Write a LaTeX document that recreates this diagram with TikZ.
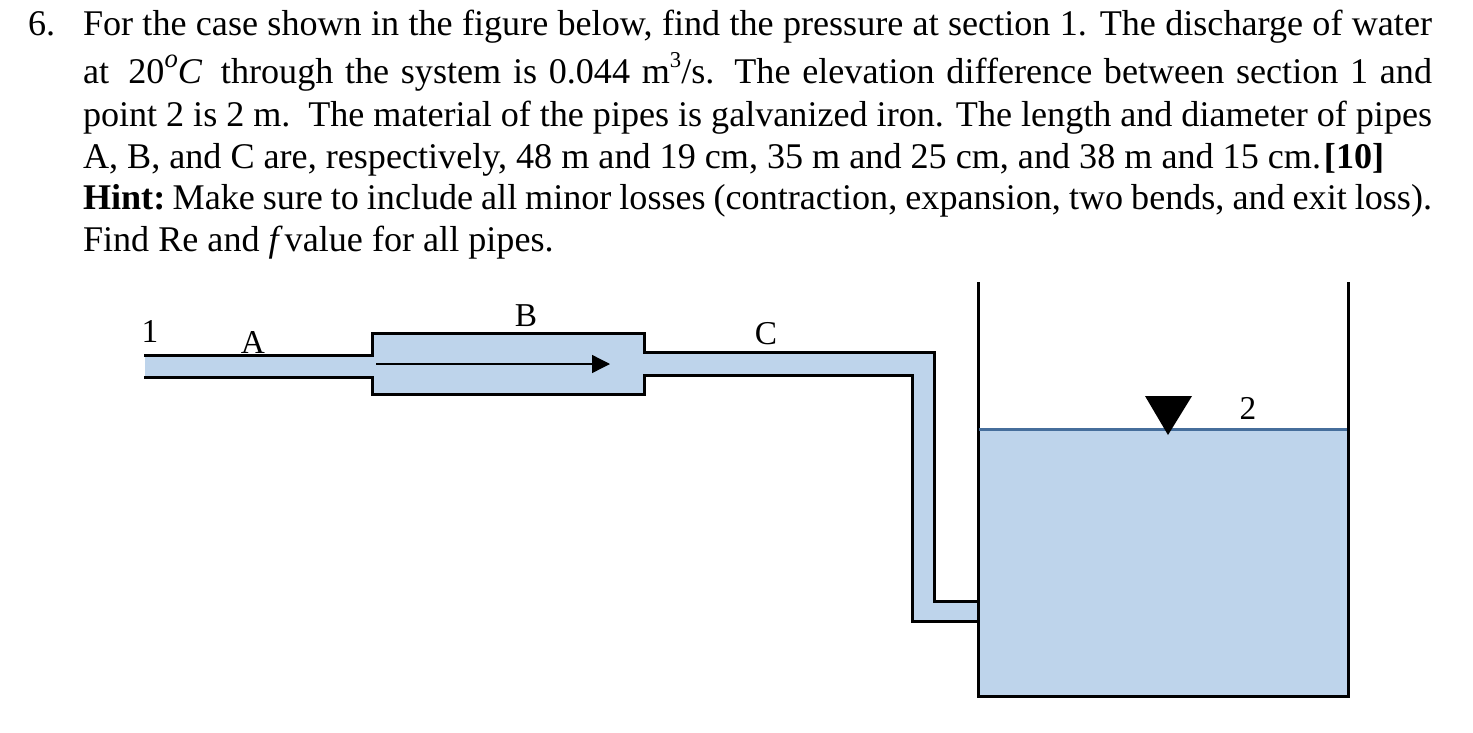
\documentclass[tikz,border=0pt]{standalone}
\usepackage{fontspec}
\setmainfont{Liberation Serif}
\usetikzlibrary{arrows.meta}
\definecolor{water}{RGB}{190,212,235}
\definecolor{surf}{RGB}{70,110,155}
\tikzset{
  textline/.style={anchor=base west,inner sep=0pt,outer sep=0pt,font=\fontsize{27.1pt}{30pt}\selectfont},
  lab/.style={inner sep=0pt,font=\fontsize{25pt}{28pt}\selectfont},
  wall/.style={draw=black,line width=2.25pt,line cap=butt,line join=miter},
  liquid/.style={fill=water,draw=none}
}
\newcommand{\fl}[1]{\makebox[1011.75pt][s]{#1}}
\begin{document}
\begin{tikzpicture}[x=0.75pt,y=-0.75pt]
\useasboundingbox (0,0) rectangle (1473,732);
\fill[white] (0,0) rectangle (1473,732);
% text
\node[textline] (n6) at (28,35) {6.};
\node[textline] (l1) at (83,35) {\fl{For the case shown in the figure below, find the pressure at section 1. The discharge of water}};
\node[textline] (l2) at (83,83) {\fl{at\kern14.5pt 20\raisebox{0.42em}{\fontsize{20pt}{20pt}\selectfont\textit{o}}\textit{C}\kern14pt through the system is 0.044 m\raisebox{0.42em}{\fontsize{17pt}{20pt}\selectfont 3}/s. The elevation difference between section 1 and}};
\node[textline] (l3) at (83,126) {\fl{point 2 is 2 m.\ \ The material of the pipes is galvanized iron. The length and diameter of pipes}};
\node[textline] (l4) at (83,168) {A, B, and C are, respectively, 48 m and 19 cm, 35 m and 25 cm, and 38 m and 15 cm.\kern-0.5pt\ \kern-4pt\textbf{[10]}};
\node[textline] (l5) at (83,209) {\fl{\textbf{Hint:}\kern5.5pt Make sure to include all minor losses (contraction, expansion, two bends, and exit loss).}};
\node[textline] (l6) at (83,251) {Find Re and \textit{f\,}value for all pipes.};
% water
\fill[liquid] (145,355) -- (372,355) -- (372,333) -- (644,333) -- (644,352) -- (934,352) -- (934,601) -- (978,601) -- (978,429) -- (1348,429) -- (1348,696) -- (978,696) -- (978,621) -- (912,621) -- (912,375) -- (644,375) -- (644,394) -- (372,394) -- (372,377) -- (145,377) -- cycle;
% pipe walls
\coordinate (a1) at (144,355); \coordinate (a2) at (372,355);
\coordinate (b1) at (372,333); \coordinate (b2) at (644,333);
\coordinate (c1) at (644,352); \coordinate (c2) at (934,352);
\coordinate (c3) at (934,601); \coordinate (c4) at (978,601);
\draw[wall] (a1) -- (a2) -- (b1) -- (b2) -- (c1) -- (c2) -- (c3) -- (c4);
\coordinate (d1) at (144,377); \coordinate (d2) at (372,377);
\coordinate (e1) at (372,394); \coordinate (e2) at (644,394);
\coordinate (f1) at (644,375); \coordinate (f2) at (912,375);
\coordinate (f3) at (912,621); \coordinate (f4) at (978,621);
\draw[wall] (d1) -- (d2) -- (e1) -- (e2) -- (f1) -- (f2) -- (f3) -- (f4);
% tank
\coordinate (t1) at (978,282); \coordinate (t2) at (978,696);
\coordinate (t3) at (1348,696); \coordinate (t4) at (1348,282);
\draw[wall] (t1) -- (t2) -- (t3) -- (t4);
\coordinate (s1) at (979,429); \coordinate (s2) at (1347,429);
\draw[draw=surf,line width=2.25pt] (s1) -- (s2);
% flow arrow
\coordinate (fa) at (376,364); \coordinate (fb) at (610,364);
\draw[line width=1pt,-{Triangle[length=13.5pt,width=13.5pt]}] (fa) -- (fb);
% surface mark
\fill[black] (1145,396) -- (1192,396) -- (1168,435) -- cycle;
% labels
\node[lab] (p1) at (150,331) {1};
\node[lab] (pA) at (253,342) {A};
\node[lab] (pB) at (526,316) {B};
\node[lab] (pC) at (766,334) {C};
\node[lab] (p2) at (1248,408) {2};
\end{tikzpicture}
\end{document}
